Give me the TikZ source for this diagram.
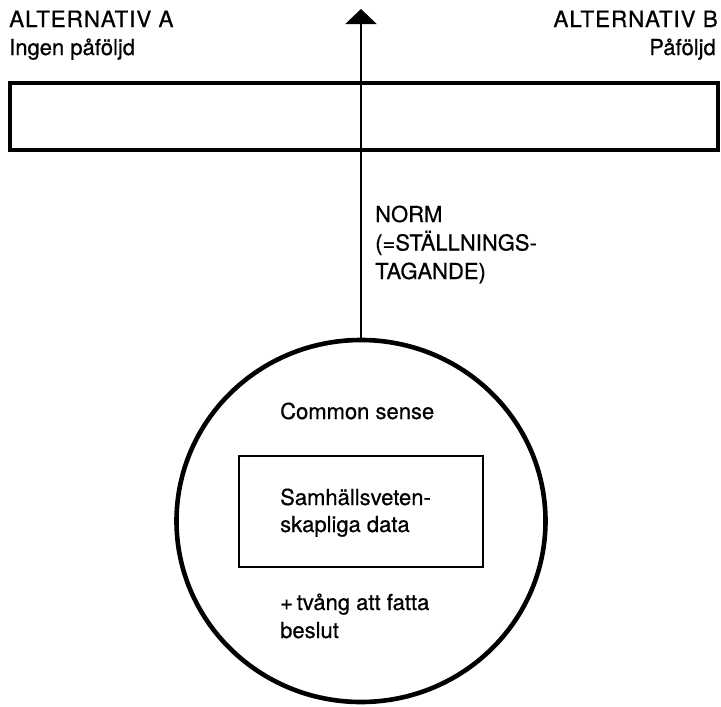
\documentclass[tikz,border=0pt]{standalone}
\usepackage{fontspec}
\setmainfont{TeX Gyre Heros}
\newfontfamily\labelfont[FakeBold=0.6]{TeX Gyre Heros}
\newfontfamily\capsfont[FakeBold=0.6,LetterSpace=4]{TeX Gyre Heros}
\usetikzlibrary{arrows.meta,shapes.geometric}

\tikzset{
  lbl/.style={inner sep=0pt, font=\labelfont\fontsize{22}{28}\selectfont},
  caps/.style={inner sep=0pt, font=\capsfont\fontsize{22.5}{28}\selectfont},
  heavy/.style={line width=4.5pt},
  ring/.style={line width=4.6pt},
  thin/.style={line width=2.7pt},
  arrowline/.style={line width=2.4pt, -{Triangle[width=31pt,length=15pt]}},
}

\begin{document}
\begin{tikzpicture}[x=1pt,y=-1pt]
  \useasboundingbox (0,0) rectangle (721,707);

  % upper bar with the two alternatives
  \node[heavy, draw, rectangle, minimum width=708pt, minimum height=67pt, inner sep=0pt]
    (bar) at (364,116.5) {};
  \node[caps, anchor=base west] (altA) at (9,27) {ALTERNATIV A};
  \node[lbl, anchor=base west] (altAsub) at (9,55) {Ingen påföljd};
  \node[caps, anchor=base east] (altB) at (718,27) {ALTERNATIV B};
  \node[lbl, anchor=base east] (altBsub) at (716,55) {Påföljd};

  % circle with its contents
  \node[ring, draw, ellipse, minimum width=369pt, minimum height=362pt, inner sep=0pt]
    (circ) at (361,521) {};
  \node[lbl, anchor=base west] (common) at (280,419) {Common sense};
  \node[thin, draw, rectangle, minimum width=244pt, minimum height=111pt, inner sep=0pt]
    (data) at (361,511.5) {};
  \node[lbl, anchor=base west, align=left, font=\labelfont\fontsize{22}{27}\selectfont] (datatext) at (280,532)
    {Samhällsveten-\\skapliga data};
  \node[lbl, anchor=base west, align=left, font=\labelfont\fontsize{22}{28}\selectfont] (forced) at (280,638)
    {+\,tvång att fatta\\beslut};

  % the norm arrow
  \coordinate (tip) at (361,9);
  \draw[arrowline] (circ.north) -- (tip);
  \node[lbl, anchor=base west, align=left, font=\labelfont\fontsize{22}{28.5}\selectfont] (norm) at (375,279)
    {NORM\\(=STÄLLNINGS-\\TAGANDE)};
\end{tikzpicture}
\end{document}
